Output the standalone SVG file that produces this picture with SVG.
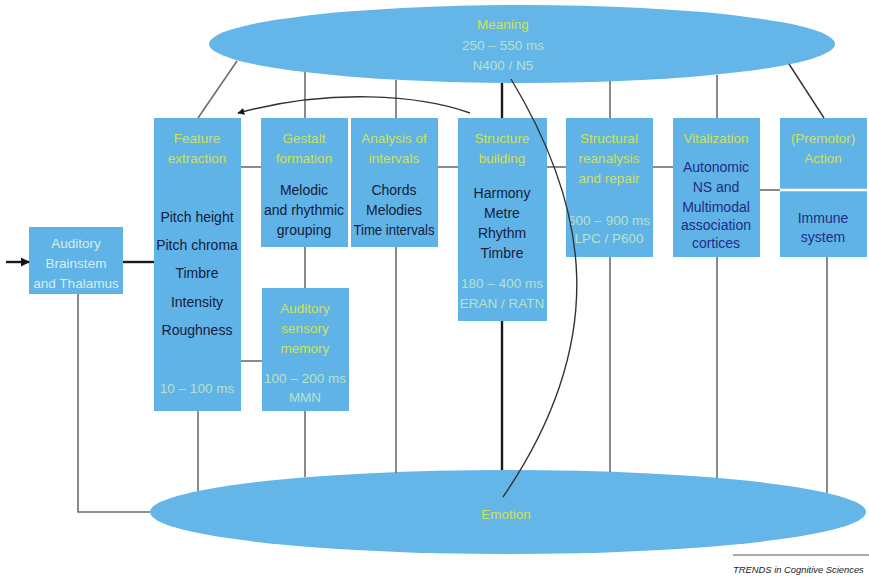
<svg xmlns="http://www.w3.org/2000/svg" width="869" height="584" viewBox="0 0 869 584">
  <style>
    .box { fill: #60b3e6; }
    .ell { fill: #64b6e8; }
    text { font-family: "Liberation Sans", Arial, sans-serif; text-anchor: middle; }
    .title { font-size: 13.5px; fill: #cfe05a; }
    .time { font-size: 13.5px; fill: #b6e2c8; }
    .pale { font-size: 13.5px; fill: #d6eee6; }
    .body { font-size: 14px; fill: #15203a; }
    .navy { font-size: 14px; fill: #1f2c86; }
    .ln { stroke: #6e6e6e; stroke-width: 1.6; fill: none; }
    .dk { stroke: #1a1a1a; stroke-width: 2.4; fill: none; }
    .thin { stroke: #333; stroke-width: 1.4; fill: none; }
  </style>
  <defs>
    <marker id="arrow" viewBox="0 0 10 10" refX="9" refY="5" markerWidth="7" markerHeight="7" orient="auto" markerUnits="userSpaceOnUse">
      <path d="M0,0 L10,5 L0,10 z" fill="#1a1a1a"/>
    </marker>
    <marker id="arrowIn" viewBox="0 0 10 10" refX="9" refY="5" markerWidth="9" markerHeight="9" orient="auto" markerUnits="userSpaceOnUse">
      <path d="M0,0 L10,5 L0,10 z" fill="#111"/>
    </marker>
  </defs>

  <rect width="869" height="584" fill="#ffffff"/>

  <!-- Emotion ellipse (drawn below the connectors) -->
  <g id="emotion">
    <ellipse class="ell" cx="508" cy="512" rx="358" ry="42"/>
    <text class="title" x="506" y="519" font-size="14">Emotion</text>
  </g>

  <!-- Meaning ellipse -->
  <g id="meaning">
    <ellipse class="ell" cx="522" cy="44" rx="313" ry="39"/>
    <text class="title" x="503" y="29">Meaning</text>
    <text class="time" x="503" y="50">250 – 550 ms</text>
    <text class="time" x="503" y="70">N400 / N5</text>
  </g>

  <g id="brainstem">
    <rect class="box" x="29" y="227" width="94" height="67"/>
    <text class="pale" x="76" y="248">Auditory</text>
    <text class="pale" x="76" y="268">Brainstem</text>
    <text class="pale" x="76" y="288">and Thalamus</text>
  </g>

  <g id="feature-extraction">
    <rect class="box" x="154" y="118" width="87" height="293"/>
    <text class="title" x="197" y="143">Feature</text>
    <text class="title" x="197" y="163">extraction</text>
    <text class="body" x="197" y="222">Pitch height</text>
    <text class="body" x="197" y="250">Pitch chroma</text>
    <text class="body" x="197" y="278">Timbre</text>
    <text class="body" x="197" y="307">Intensity</text>
    <text class="body" x="197" y="335">Roughness</text>
    <text class="time" x="197" y="393">10 – 100 ms</text>
  </g>

  <g id="gestalt-formation">
    <rect class="box" x="261" y="118" width="87" height="129"/>
    <text class="title" x="304" y="143">Gestalt</text>
    <text class="title" x="304" y="163">formation</text>
    <text class="body" x="304" y="195">Melodic</text>
    <text class="body" x="304" y="215">and rhythmic</text>
    <text class="body" x="304" y="235">grouping</text>
  </g>

  <g id="analysis-of-intervals">
    <rect class="box" x="351" y="118" width="87" height="129"/>
    <text class="title" x="394" y="143">Analysis of</text>
    <text class="title" x="394" y="163">intervals</text>
    <text class="body" x="394" y="195">Chords</text>
    <text class="body" x="394" y="215">Melodies</text>
    <text class="body" x="394" y="235" textLength="81" lengthAdjust="spacingAndGlyphs">Time intervals</text>
  </g>

  <g id="auditory-sensory-memory">
    <rect class="box" x="262" y="288" width="87" height="123"/>
    <text class="title" x="305" y="313">Auditory</text>
    <text class="title" x="305" y="333">sensory</text>
    <text class="title" x="305" y="353">memory</text>
    <text class="time" x="305" y="383">100 – 200 ms</text>
    <text class="time" x="305" y="402">MMN</text>
  </g>

  <g id="structure-building">
    <rect class="box" x="458" y="118" width="89" height="203"/>
    <text class="title" x="502" y="143">Structure</text>
    <text class="title" x="502" y="163">building</text>
    <text class="body" x="502" y="198">Harmony</text>
    <text class="body" x="502" y="218">Metre</text>
    <text class="body" x="502" y="238">Rhythm</text>
    <text class="body" x="502" y="258">Timbre</text>
    <text class="time" x="502" y="288">180 – 400 ms</text>
    <text class="time" x="502" y="308">ERAN / RATN</text>
  </g>

  <g id="structural-reanalysis">
    <rect class="box" x="566" y="118" width="87" height="139"/>
    <text class="title" x="609" y="143">Structural</text>
    <text class="title" x="609" y="163">reanalysis</text>
    <text class="title" x="609" y="183">and repair</text>
    <text class="time" x="609" y="225">600 – 900 ms</text>
    <text class="time" x="609" y="243">LPC / P600</text>
  </g>

  <g id="vitalization">
    <rect class="box" x="673" y="118" width="87" height="139"/>
    <text class="title" x="716" y="143">Vitalization</text>
    <text class="navy" x="716" y="172">Autonomic</text>
    <text class="navy" x="716" y="192">NS and</text>
    <text class="navy" x="716" y="212">Multimodal</text>
    <text class="navy" x="716" y="230">association</text>
    <text class="navy" x="716" y="248">cortices</text>
  </g>

  <g id="premotor-action">
    <rect class="box" x="780" y="118" width="87" height="139"/>
    <line x1="780" y1="190" x2="867" y2="190" stroke="#ffffff" stroke-width="2.5"/>
    <text class="title" x="823" y="143">(Premotor)</text>
    <text class="title" x="823" y="163">Action</text>
    <text class="navy" x="823" y="223">Immune</text>
    <text class="navy" x="823" y="242">system</text>
  </g>

  <!-- Connectors (drawn over the nodes; each ends at a node edge) -->
  <g id="connectors">
    <!-- from Meaning down to the modules -->
    <line class="ln" x1="237" y1="61" x2="198" y2="118"/>
    <line class="ln" x1="305" y1="72" x2="305" y2="118"/>
    <line class="ln" x1="396" y1="80" x2="396" y2="118"/>
    <line class="dk" x1="502" y1="83" x2="502" y2="118"/>
    <line class="ln" x1="610" y1="81" x2="610" y2="118"/>
    <line class="ln" x1="717" y1="75" x2="717" y2="118"/>
    <line class="thin" x1="789" y1="64" x2="824" y2="118"/>

    <!-- modules down to Emotion -->
    <line class="ln" x1="198" y1="411" x2="198" y2="491"/>
    <line class="ln" x1="305" y1="411" x2="305" y2="477"/>
    <line class="ln" x1="396" y1="247" x2="396" y2="473"/>
    <line class="dk" x1="502" y1="321" x2="502" y2="470"/>
    <line class="ln" x1="610" y1="257" x2="610" y2="472"/>
    <line class="ln" x1="717" y1="257" x2="717" y2="478"/>
    <line class="ln" x1="827" y1="257" x2="827" y2="493"/>

    <!-- Gestalt formation to auditory sensory memory -->
    <line class="ln" x1="305" y1="247" x2="305" y2="288"/>

    <!-- horizontal links between modules -->
    <line class="ln" x1="241" y1="167" x2="261" y2="167"/>
    <line class="ln" x1="438" y1="167" x2="458" y2="167"/>
    <line class="ln" x1="547" y1="167" x2="566" y2="167"/>
    <line class="ln" x1="653" y1="167" x2="673" y2="167"/>
    <line class="ln" x1="760" y1="190" x2="780" y2="190"/>
    <line class="ln" x1="241" y1="361" x2="262" y2="361"/>

    <!-- input and brainstem links -->
    <line class="dk" x1="6" y1="262" x2="29" y2="262" marker-end="url(#arrowIn)"/>
    <line class="dk" x1="123" y1="262" x2="154" y2="262"/>
    <polyline class="ln" points="78,294 78,512 150,512"/>

    <!-- feedback from structure building to feature extraction -->
    <path class="thin" d="M470,113 C420,95 330,88 238,113" marker-end="url(#arrow)"/>

    <!-- Meaning to Emotion -->
    <path class="thin" d="M511,79 C590,210 610,340 503,497"/>
  </g>

  <!-- journal credit -->
  <g id="credit">
    <line x1="733" y1="555" x2="869" y2="555" stroke="#555" stroke-width="1"/>
    <text x="733" y="573" style="text-anchor:start" font-size="9.4" font-style="italic" fill="#222">TRENDS in Cognitive Sciences</text>
  </g>
</svg>
